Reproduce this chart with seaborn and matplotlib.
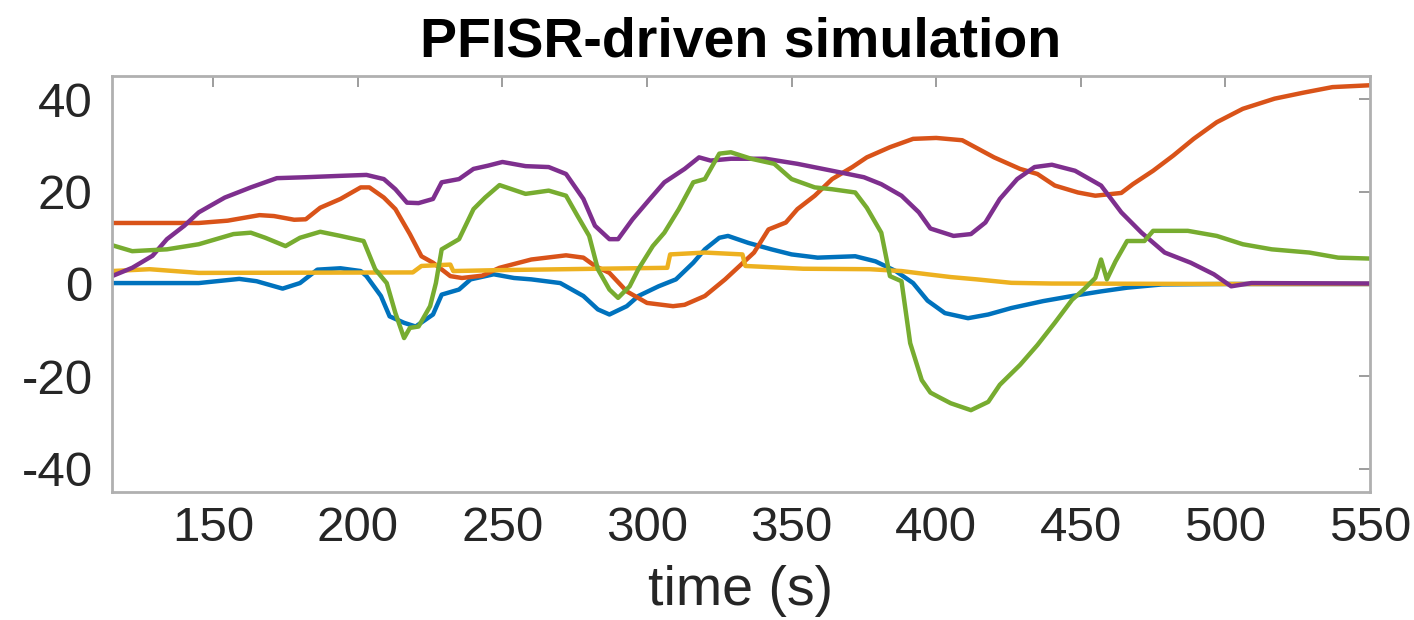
import matplotlib
matplotlib.use("Agg")
import matplotlib.pyplot as plt
import seaborn as sns
import pandas as pd

# Time samples (s) and values for each simulated component
blue_t = [115, 145, 159, 165, 174, 180, 186, 194, 201, 203, 208, 211, 216, 220, 226, 229, 235, 239, 247, 254,
          260, 270, 278, 283, 287, 293, 297, 304, 310, 316, 320, 325, 328, 335, 343, 350, 359, 372, 379, 386,
          392, 397, 403, 411, 418, 426, 437, 447, 457, 466, 478, 500, 550]
blue_v = [0.2, 0.2, 1.1, 0.6, -1.0, 0.2, 3.1, 3.4, 2.8, 1.7, -2.6, -7.0, -8.4, -9.2, -6.6, -2.3, -1.2, 1.0, 2.1, 1.3,
          1.0, 0.2, -2.6, -5.5, -6.6, -4.8, -2.6, -0.5, 1.0, 4.6, 7.5, 10.0, 10.4, 8.9, 7.5, 6.4, 5.7, 6.0, 4.9, 2.8,
          0.2, -3.6, -6.3, -7.4, -6.6, -5.2, -3.7, -2.6, -1.6, -0.8, -0.1, 0.0, 0.0]

orange_t = [115, 145, 155, 166, 171, 178, 182, 187, 194, 201, 204, 209, 213, 218, 222, 226, 232, 236, 243, 249,
            260, 272, 278, 282, 287, 293, 300, 309, 313, 320, 327, 332, 337, 342, 348, 352, 358, 364, 371, 376,
            384, 392, 400, 409, 420, 429, 435, 441, 449, 455, 464, 468, 475, 482, 489, 497, 506, 517, 527, 537, 550]
orange_v = [13.2, 13.2, 13.7, 14.9, 14.7, 13.9, 14.0, 16.5, 18.4, 20.9, 20.9, 18.7, 16.2, 10.8, 6.0, 4.6, 1.7, 1.3, 1.8, 3.5,
            5.3, 6.2, 5.7, 3.9, 2.4, -1.6, -4.1, -4.8, -4.5, -2.6, 1.0, 3.9, 6.8, 11.8, 13.3, 16.2, 19.1, 22.7, 25.3, 27.4,
            29.6, 31.4, 31.6, 31.1, 27.4, 24.9, 23.8, 21.3, 19.8, 19.1, 19.7, 21.6, 24.5, 27.8, 31.4, 35.0, 37.9, 40.1, 41.4, 42.6, 43.0]

yellow_t = [115, 128, 145, 219, 222, 232, 233, 249, 283, 307, 308, 320, 333, 334, 354, 377, 388, 397, 405, 414,
            426, 440, 500, 550]
yellow_v = [2.8, 3.2, 2.4, 2.5, 3.9, 4.2, 2.8, 3.0, 3.3, 3.5, 6.4, 6.8, 6.4, 3.9, 3.3, 3.2, 2.8, 2.1, 1.5, 1.0,
            0.25, 0.1, 0.0, 0.0]

purple_t = [115, 122, 129, 134, 140, 145, 154, 163, 172, 182, 194, 203, 209, 213, 217, 221, 226, 229, 235, 240,
            245, 250, 258, 266, 272, 278, 282, 287, 290, 295, 301, 306, 313, 318, 322, 329, 341, 352, 364, 375,
            381, 388, 394, 398, 403, 406, 412, 417, 422, 428, 434, 440, 448, 457, 464, 471, 479, 488, 496, 502,
            509, 550]
purple_v = [1.7, 3.5, 6.1, 9.7, 12.6, 15.5, 18.7, 20.9, 22.9, 23.1, 23.4, 23.6, 22.7, 20.5, 17.6, 17.5, 18.4, 22.0, 22.7, 24.9,
            25.6, 26.4, 25.5, 25.3, 23.8, 18.4, 12.6, 9.7, 9.7, 14.0, 18.4, 22.0, 24.9, 27.4, 26.7, 27.1, 27.1, 26.0, 24.5, 23.1,
            21.6, 19.1, 15.5, 12.0, 11.0, 10.4, 10.8, 13.3, 18.4, 22.7, 25.3, 25.8, 24.5, 21.3, 15.5, 11.1, 6.8, 4.6, 2.1, -0.5,
            0.2, 0.1]

green_t = [115, 122, 134, 145, 157, 163, 168, 175, 180, 187, 194, 202, 206, 210, 213, 216, 218, 221, 225, 227,
           229, 235, 240, 244, 249, 258, 266, 272, 276, 280, 283, 287, 290, 294, 297, 302, 306, 311, 316, 320,
           325, 329, 336, 344, 350, 358, 364, 372, 376, 381, 384, 388, 391, 395, 398, 401, 405, 412, 418, 422,
           429, 435, 441, 447, 451, 455, 457, 459, 462, 466, 472, 475, 487, 497, 506, 516, 529, 539, 550]
green_v = [8.4, 7.1, 7.5, 8.6, 10.8, 11.1, 10.0, 8.2, 10.0, 11.3, 10.4, 9.3, 3.2, 0.2, -6.3, -11.7, -9.5, -9.2, -4.8, 0.2,
           7.5, 9.7, 16.2, 18.7, 21.4, 19.5, 20.2, 19.1, 14.7, 10.4, 3.2, -1.2, -3.0, -0.5, 3.2, 8.2, 11.1, 16.2, 22.0, 22.7,
           28.2, 28.5, 27.1, 26.0, 22.7, 20.9, 20.5, 19.8, 16.5, 11.1, 1.7, 0.6, -12.8, -20.8, -23.5, -24.5, -25.8, -27.3, -25.5, -21.8,
           -17.5, -13.2, -8.4, -3.4, -1.2, 1.3, 5.3, 1.0, 4.9, 9.3, 9.3, 11.5, 11.5, 10.4, 8.6, 7.5, 6.8, 5.7, 5.5]

x_ticks = [150, 200, 250, 300, 350, 400, 450, 500, 550]
y_ticks = [-40, -20, 0, 20, 40]

series = [
    (blue_t, blue_v, "#0072BD"),
    (orange_t, orange_v, "#D95319"),
    (yellow_t, yellow_v, "#EDB120"),
    (purple_t, purple_v, "#7E2F8E"),
    (green_t, green_v, "#77AC30"),
]

sns.set_style("white")
plt.rcParams["font.family"] = ["Liberation Sans", "DejaVu Sans"]
plt.rcParams["axes.unicode_minus"] = False

fig = plt.figure(figsize=(14.14, 6.2), dpi=100)
ax = fig.add_axes([0.0792, 0.2065, 0.8897, 0.6709])

for t, v, c in series:
    df = pd.DataFrame({"t": t, "v": v})
    sns.lineplot(data=df, x="t", y="v", color=c, linewidth=3.2, estimator=None, sort=False, ax=ax)

ax.set_xlim(115, 550)
ax.set_ylim(-45, 45)
ax.set_xticks(x_ticks)
ax.set_yticks(y_ticks)
ax.tick_params(axis="both", direction="in", length=8, width=1.2, color="#8c8c8c",
               labelsize=35.5, labelcolor="#262626", top=True, right=True)
ax.tick_params(axis="y", pad=14)
ax.tick_params(axis="x", pad=10)
for s in ax.spines.values():
    s.set_color("#b0b0b0")
    s.set_linewidth(2.0)

ax.set_xlabel("time (s)", fontsize=40, color="#262626", labelpad=10)
ax.set_ylabel("")
ax.set_title("PFISR-driven simulation", fontsize=40, fontweight="bold", color="#000000", pad=14)

fig.savefig("out.png", dpi=100)
